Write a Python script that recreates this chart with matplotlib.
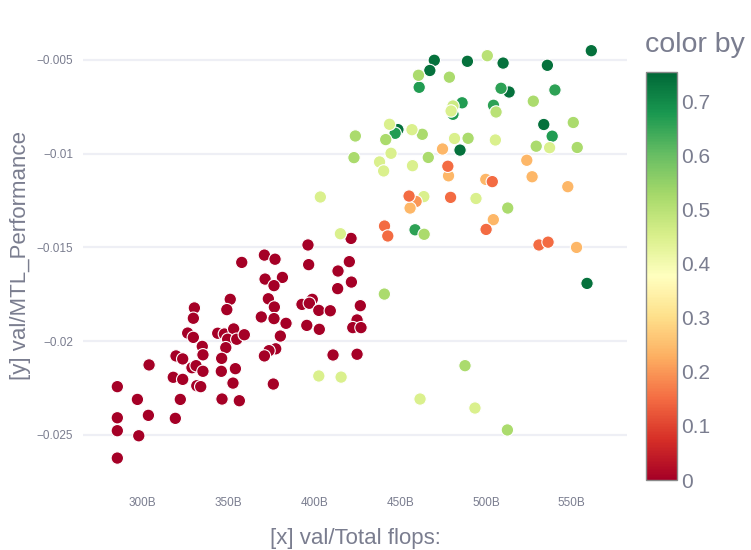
import matplotlib
matplotlib.use("Agg")
import matplotlib.pyplot as plt
import numpy as np
from matplotlib.colors import Normalize

plt.rcParams['font.family'] = ['Liberation Sans', 'DejaVu Sans']

# ---------------- data ----------------
# red cluster (color value ~0)
red_x = [357.7, 370.9, 377.1, 396.3, 396.7, 421.4, 420.4, 413.8, 421.6, 413.6,
         371.3, 381.4, 376.5, 351.0, 349.0, 330.1, 329.5, 373.2, 376.7, 369.1,
         376.5, 383.5, 392.8, 398.8, 397.1, 402.6, 409.3, 426.8, 424.9, 422.4,
         427.2, 395.6, 402.9, 380.2, 377.5, 373.6, 370.9, 410.9, 424.9, 376.1,
         326.2, 329.5, 343.7, 347.6, 353.0, 349.5, 354.8, 359.2, 348.4, 334.7,
         335.1, 319.4, 323.3, 346.0, 328.7, 331.1, 335.1, 345.8, 354.0, 317.8,
         323.3, 352.6, 331.5, 333.8, 303.7, 285.2, 296.9, 321.9, 346.2, 356.3,
         303.3, 319.0, 285.2, 285.2, 297.7, 285.2]
red_y = [-0.01580, -0.01541, -0.01563, -0.01487, -0.01592, -0.01452, -0.01576, -0.01626, -0.01685, -0.01720,
         -0.01669, -0.01660, -0.01704, -0.01777, -0.01832, -0.01823, -0.01878, -0.01774, -0.01818, -0.01871,
         -0.01880, -0.01905, -0.01804, -0.01777, -0.01798, -0.01836, -0.01838, -0.01811, -0.01887, -0.01928,
         -0.01928, -0.01916, -0.01937, -0.01973, -0.02041, -0.02051, -0.02079, -0.02074, -0.02070, -0.02229,
         -0.01957, -0.01980, -0.01958, -0.01962, -0.01935, -0.01990, -0.01990, -0.01966, -0.02035, -0.02028,
         -0.02073, -0.02079, -0.02095, -0.02092, -0.02142, -0.02131, -0.02161, -0.02161, -0.02147, -0.02193,
         -0.02204, -0.02224, -0.02238, -0.02243, -0.02127, -0.02243, -0.02311, -0.02311, -0.02309, -0.02318,
         -0.02396, -0.02412, -0.02409, -0.02478, -0.02505, -0.02624]
red_c = [0.0] * len(red_x)

col_x = [561.4, 469.9, 467.3, 489.2, 510.0, 535.8, 513.5, 533.7, 448.7, 484.9, 558.9,
         461.1, 508.8, 540.2, 486.1, 480.8, 504.4, 538.6, 447.1, 458.7,
         500.8, 460.7, 478.7, 527.6, 505.9, 550.9, 462.9, 423.9, 441.6, 489.6,
         529.3, 553.2, 423.1, 466.4, 512.7, 464.0, 440.8, 487.8, 512.5,
         480.8, 479.7, 443.8, 456.9, 481.7, 505.5, 537.1, 444.7, 438.0, 440.4,
         457.2, 403.5, 463.8, 494.2, 415.2, 402.6, 415.6, 461.6, 493.6,
         474.7, 478.2, 523.8, 526.9, 499.9, 547.7, 459.3, 455.8, 504.3, 552.8,
         477.8, 503.7, 455.2, 479.4, 500.1, 440.9, 442.8, 530.9, 536.2]
col_y = [-0.004504, -0.005016, -0.00556, -0.00507, -0.005165, -0.005283, -0.006708, -0.008442, -0.008714, -0.009808, -0.01692,
         -0.006457, -0.00651, -0.006601, -0.007284, -0.007897, -0.007417, -0.009066, -0.008911, -0.01406,
         -0.004771, -0.005816, -0.005918, -0.007198, -0.007775, -0.008335, -0.008965, -0.009055, -0.009247, -0.009178,
         -0.0096, -0.009669, -0.01021, -0.0102, -0.0129, -0.0143, -0.01749, -0.02131, -0.02474,
         -0.007455, -0.007721, -0.008431, -0.008719, -0.009189, -0.009269, -0.00968, -0.009978, -0.01044, -0.01092,
         -0.01064, -0.01231, -0.01229, -0.01239, -0.01427, -0.02186, -0.02192, -0.02309, -0.02357,
         -0.009749, -0.01118, -0.01035, -0.01123, -0.01137, -0.01176, -0.01255, -0.0129, -0.01352, -0.015,
         -0.01067, -0.01149, -0.01226, -0.01233, -0.01404, -0.01386, -0.01439, -0.01487, -0.01472]
col_c = [0.74, 0.74, 0.74, 0.74, 0.74, 0.74, 0.74, 0.74, 0.74, 0.74, 0.74,
         0.67, 0.66, 0.66, 0.67, 0.67, 0.66, 0.67, 0.67, 0.66,
         0.50, 0.52, 0.52, 0.52, 0.50, 0.52, 0.52, 0.52, 0.52, 0.52,
         0.52, 0.52, 0.52, 0.52, 0.52, 0.52, 0.52, 0.52, 0.52,
         0.47, 0.45, 0.45, 0.45, 0.45, 0.45, 0.45, 0.45, 0.45, 0.45,
         0.45, 0.45, 0.45, 0.45, 0.45, 0.45, 0.45, 0.45, 0.45,
         0.24, 0.24, 0.24, 0.24, 0.24, 0.24, 0.20, 0.24, 0.24, 0.24,
         0.15, 0.15, 0.15, 0.15, 0.15, 0.15, 0.15, 0.15, 0.15]

x_ticks = [300, 350, 400, 450, 500, 550]
x_tick_labels = ["300B", "350B", "400B", "450B", "500B", "550B"]
y_ticks = [-0.005, -0.01, -0.015, -0.02, -0.025]
y_tick_labels = ["\u22120.005", "\u22120.01", "\u22120.015", "\u22120.02", "\u22120.025"]
cb_ticks = [0, 0.1, 0.2, 0.3, 0.4, 0.5, 0.6, 0.7]
cb_tick_labels = ["0", "0.1", "0.2", "0.3", "0.4", "0.5", "0.6", "0.7"]
c_min, c_max = 0.0, 0.755

# ---------------- figure ----------------
TEXT = '#7a7d8f'
fig = plt.figure(figsize=(7.51, 5.50), dpi=100)
ax = fig.add_axes([83/751, 70/550, 544/751, 450/550])

xs = np.array(red_x + col_x)
ys = np.array(red_y + col_y)
cs = np.array(red_c + col_c)

norm = Normalize(vmin=c_min, vmax=c_max)
sc = ax.scatter(xs, ys, c=cs, cmap='RdYlGn', norm=norm, s=80,
                edgecolors='white', linewidths=0.8, zorder=3)

ax.set_xlim(265.2, 582.2)
ax.set_ylim(-0.02741, -0.0034)
ax.set_xticks(x_ticks)
ax.set_xticklabels(x_tick_labels)
ax.set_yticks(y_ticks)
ax.set_yticklabels(y_tick_labels)
ax.tick_params(axis='both', length=0, labelsize=8.5, colors=TEXT)
ax.tick_params(axis='x', pad=12)
ax.tick_params(axis='y', pad=7)
for s in ax.spines.values():
    s.set_visible(False)
ax.grid(axis='y', color='#eeeff5', linewidth=1.6, zorder=0)
ax.grid(axis='x', visible=False)
ax.set_axisbelow(True)

ax.set_xlabel("[x] val/Total flops:", fontsize=16, color=TEXT, labelpad=14)
ax.set_ylabel("[y] val/MTL_Performance", fontsize=16, color=TEXT, labelpad=4)

cax = fig.add_axes([646/751, 70/550, 31/751, 408/550])
cb = fig.colorbar(sc, cax=cax, ticks=cb_ticks)
cb.ax.set_yticklabels(cb_tick_labels)
cb.ax.tick_params(length=0, labelsize=15, colors=TEXT, pad=3)
cb.outline.set_edgecolor('#8a8a8a')
cb.outline.set_linewidth(1.0)
fig.text(645/751, 1 - 45/550, "color by", fontsize=20.5, color=TEXT,
         ha='left', va='center')

fig.savefig("out.png", dpi=100)
